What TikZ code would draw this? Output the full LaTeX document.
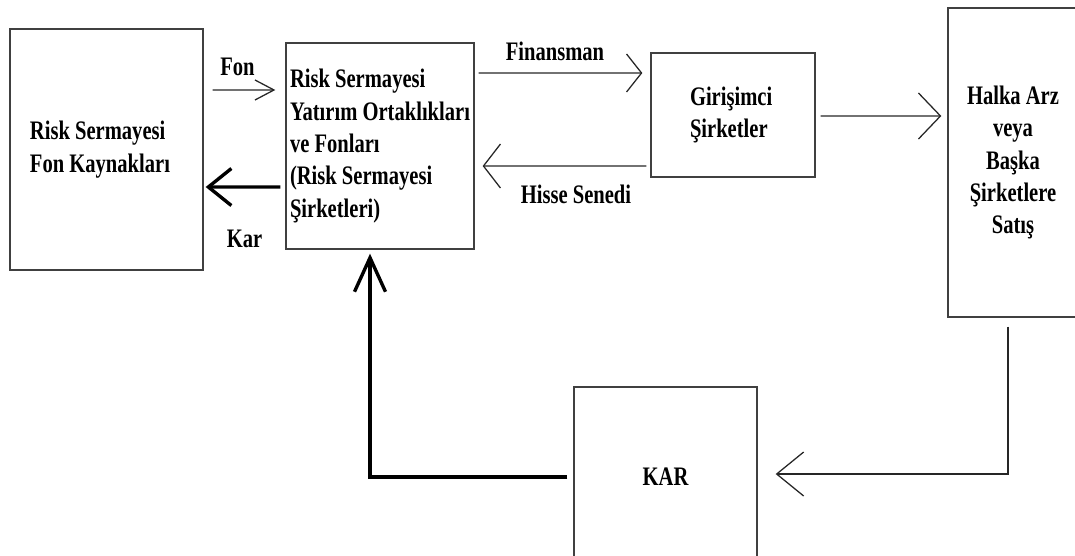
\documentclass[tikz,border=0pt]{standalone}
\usepackage{fontspec}
\setmainfont{Liberation Serif}[FakeStretch=0.77]
\usetikzlibrary{arrows.meta}

\newcommand{\diagfont}{\fontsize{19}{23}\selectfont\bfseries}

\begin{document}
\begin{tikzpicture}[
    x=0.025cm,
    y=-0.025cm,
    box/.style={
        rectangle,
        draw=black!75,
        line width=0.9pt,
        inner sep=0pt,
        font=\diagfont
    },
    lbl/.style={
        inner sep=0pt,
        font=\diagfont
    },
    arrow/.style={
        line width=0.9pt,
        draw=black!85
    },
    thickarrow/.style={
        line width=2.4pt,
        draw=black
    }
]
\useasboundingbox (0,0) rectangle (1075,555);

% --- Boxes ---
\node[box, minimum width=4.825cm, minimum height=6.025cm, text width=3.825cm, align=flush left] (fonkay) at (106.5,149.5)
    {Risk Sermayesi\\Fon Kaynakları};
\node[box, minimum width=4.7cm, minimum height=5.15cm, align=left] (vc) at (380,146)
    {Risk Sermayesi\\Yatırım Ortaklıkları\\ve Fonları\\(Risk Sermayesi\\Şirketleri)};
\node[box, minimum width=4.1cm, minimum height=3.1cm, text width=2.15cm, align=flush left] (girisim) at (733,115)
    {Girişimci\\Şirketler};
\node[box, minimum width=3.25cm, minimum height=7.725cm, align=center] (halka) at (1013,162.5)
    {Halka Arz\\veya\\Başka\\Şirketlere\\Satış};
\node[box, minimum width=4.575cm, minimum height=4.5cm] (kar) at (665.5,477) {KAR};

% --- Fund flow ---
\draw[arrow, -{Straight Barb[length=0.475cm,width=0.5cm]}, shorten <=0.225cm, shorten >=0.25cm]
    ([yshift=1.4875cm]fonkay.east) -- ([yshift=1.4cm]vc.west)
    node[lbl, midway, above=0.33cm, xshift=-0.175cm] {Fon};
\draw[thickarrow, -{Straight Barb[length=0.575cm,width=0.925cm]}, shorten <=0.125cm, shorten >=0.05cm]
    ([yshift=-1.025cm]vc.west) -- ([yshift=-0.9375cm]fonkay.east)
    node[lbl, midway, below=1.02cm] {Kar};

% --- Financing and shares ---
\draw[arrow, -{Straight Barb[length=0.375cm,width=0.95cm]}, shorten <=0.1cm, shorten >=0.2cm]
    ([yshift=1.825cm]vc.east) -- ([yshift=1.05cm]girisim.west)
    node[lbl, midway, above=0.3cm, xshift=-0.1875cm] {Finansman};
\draw[arrow, -{Straight Barb[length=0.425cm,width=1.1cm]}, shorten <=0.1cm, shorten >=0.2cm]
    ([yshift=-1.275cm]girisim.west) -- ([yshift=-0.5cm]vc.east)
    node[lbl, midway, below=0.45cm, xshift=0.3375cm] {Hisse Senedi};

% --- Exit and profit ---
\draw[arrow, -{Straight Barb[length=0.55cm,width=1.15cm]}, shorten <=0.125cm, shorten >=0.15cm]
    ([yshift=-0.025cm]girisim.east) -- ([yshift=1.1625cm]halka.west);
\draw[arrow, -{Straight Barb[length=0.675cm,width=1.1cm]}, shorten <=0.225cm, shorten >=0.45cm]
    ([xshift=-0.125cm]halka.south) |- ([yshift=0.075cm]kar.east);
\draw[thickarrow, -{Straight Barb[length=0.85cm,width=0.775cm]}, shorten <=0.15cm, shorten >=0.1cm]
    (kar.west) -| ([xshift=-0.25cm]vc.south);

\end{tikzpicture}
\end{document}
